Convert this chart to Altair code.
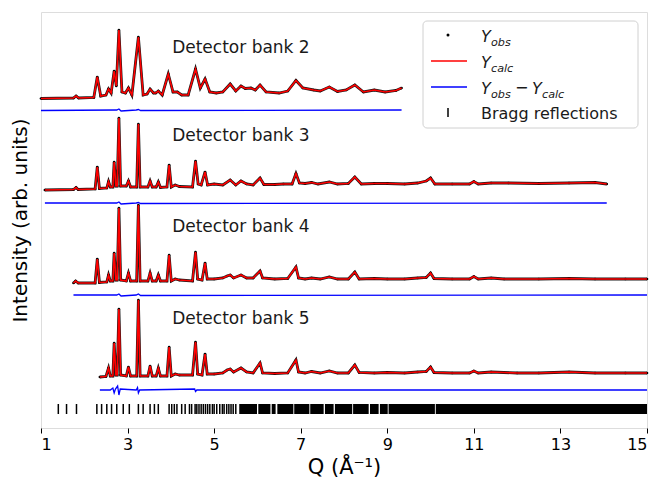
import altair as alt
import pandas as pd

# ---------------- data (arbitrary intensity units) ----------------
# Detector bank 2
b2_q = [1.00, 1.75, 1.81, 1.87, 2.22, 2.30, 2.38, 2.50, 2.56, 2.62, 2.69, 2.74, 2.80, 2.87, 2.95,
        3.02, 3.10, 3.25, 3.36, 3.45, 3.52, 3.60, 3.65, 3.71, 3.80, 3.94, 4.05, 4.15, 4.25, 4.40,
        4.57, 4.68, 4.79, 4.90, 5.05, 5.20, 5.37, 5.50, 5.62, 5.72, 5.85, 5.95, 6.06, 6.20, 6.50,
        6.70, 6.89, 7.05, 7.30, 7.45, 7.66, 7.85, 8.05, 8.25, 8.45, 8.70, 8.95, 9.20, 9.33]
b2_i = [329.5, 330, 332, 330, 330.5, 351, 332, 333, 339, 335, 357, 342, 398, 336, 335,
        340, 333, 391, 333, 334, 339, 335, 335, 337, 333, 354, 336, 336, 333, 333,
        359, 340, 349, 336, 335, 336, 344, 337, 342, 339.5, 340, 338, 343, 336, 335,
        337, 347.5, 340, 338, 337, 341, 336.5, 338, 343, 336, 338, 336, 337.5, 340]
b2_dq = [1.00, 2.75, 2.80, 2.85, 3.20, 3.25, 3.30, 9.33]
b2_di = [317.5, 318, 319, 317, 318, 318.5, 317.5, 318]

# Detector bank 3
b3_q = [1.09, 1.75, 1.81, 1.86, 2.25, 2.30, 2.35, 2.52, 2.56, 2.60, 2.66, 2.69, 2.73, 2.76, 2.80,
        2.84, 2.97, 3.02, 3.07, 3.21, 3.25, 3.29, 3.47, 3.52, 3.57, 3.66, 3.71, 3.76, 3.91, 3.96,
        4.01, 4.10, 4.20, 4.50, 4.57, 4.63, 4.70, 4.79, 4.85, 5.00, 5.20, 5.37, 5.50, 5.62, 5.75,
        5.90, 6.06, 6.15, 6.40, 6.60, 6.80, 6.89, 6.97, 7.10, 7.25, 7.40, 7.66, 7.85, 8.10, 8.25,
        8.40, 8.70, 9.00, 9.40, 9.70, 9.90, 10.00, 10.10, 10.50, 10.90, 11.00, 11.10, 11.40, 11.80,
        12.50, 13.20, 13.80, 14.07]
b3_i = [238, 238.5, 240.5, 238.5, 239, 261, 239.5, 240, 246.5, 241, 241, 266, 242, 242, 310,
        242, 242, 247, 241, 241, 304, 241, 241, 247, 241, 241, 246, 240.5, 241, 263,
        241, 243, 241.5, 241, 267, 244, 243, 256, 243, 244, 243, 248, 243, 247, 244,
        243, 250, 243.5, 243.5, 244, 244, 254.5, 245, 244.5, 245.5, 244, 246, 244, 244.5, 251,
        244, 244.5, 244.5, 244, 245, 247, 250, 244, 244, 244, 246.5, 244, 245, 245,
        244.5, 245, 245.5, 244]
b3_dq = [1.09, 2.75, 2.80, 2.85, 3.20, 3.25, 3.30, 14.07]
b3_di = [225, 225, 226, 224, 225, 225.5, 224.5, 225]

# Detector bank 4
b4_q = [1.75, 1.80, 1.86, 2.25, 2.30, 2.35, 2.52, 2.56, 2.60, 2.66, 2.69, 2.73, 2.76, 2.80, 2.84,
        2.97, 3.02, 3.07, 3.21, 3.25, 3.29, 3.47, 3.52, 3.57, 3.66, 3.71, 3.76, 3.91, 3.96, 4.01,
        4.10, 4.20, 4.50, 4.57, 4.62, 4.72, 4.79, 4.84, 5.00, 5.20, 5.30, 5.37, 5.45, 5.62, 5.75,
        5.90, 6.06, 6.12, 6.40, 6.70, 6.89, 6.95, 7.10, 7.25, 7.45, 7.66, 7.85, 8.10, 8.25, 8.35,
        8.70, 9.00, 9.40, 9.70, 9.90, 10.00, 10.08, 10.50, 10.90, 11.00, 11.10, 11.40, 11.70, 12.50,
        13.20, 13.80, 14.50, 15.00]
b4_i = [145, 147, 145, 145, 169, 145.5, 146, 153, 147, 147, 175, 148, 148, 220, 148,
        147, 155, 147, 147, 223, 147, 147, 155, 147, 147, 153, 147, 147, 173, 147,
        149, 148, 147, 176, 149, 148, 165, 149, 149, 150, 152, 153, 150, 153, 150,
        150, 157, 150, 149, 149.5, 161, 150, 149, 150, 149, 151, 149, 149, 156, 149,
        149.5, 149, 149, 150, 150.5, 155, 149.5, 149, 149, 151.5, 149, 150, 149, 149,
        149.5, 149, 149, 149]
b4_dq = [1.75, 2.75, 2.80, 2.85, 3.20, 3.25, 3.30, 15.00]
b4_di = [133, 133, 134, 132, 133, 134, 132.5, 133]

# Detector bank 5
b5_q = [2.36, 2.50, 2.56, 2.60, 2.66, 2.69, 2.73, 2.76, 2.80, 2.84, 2.97, 3.02, 3.07, 3.21, 3.25,
        3.29, 3.47, 3.52, 3.57, 3.66, 3.71, 3.76, 3.91, 3.96, 4.01, 4.10, 4.20, 4.50, 4.57, 4.62,
        4.72, 4.79, 4.84, 5.00, 5.20, 5.30, 5.37, 5.45, 5.62, 5.75, 5.90, 6.06, 6.12, 6.40, 6.70,
        6.89, 6.95, 7.10, 7.25, 7.45, 7.66, 7.85, 8.10, 8.25, 8.35, 8.70, 9.00, 9.40, 9.70, 9.90,
        10.00, 10.08, 10.50, 10.90, 11.00, 11.10, 11.40, 12.00, 12.50, 13.20, 13.80, 14.50, 15.00]
b5_i = [51, 51.5, 60, 52, 52, 85, 53, 53, 119, 53, 52, 61, 52, 52, 128,
        52, 52, 62, 52, 52, 60, 52, 52, 81, 52, 54, 53, 53, 86, 54,
        53, 74, 54, 54, 55, 58, 59, 56, 60, 56, 55, 65, 55, 54.5, 55,
        68, 56, 55, 56.5, 55, 57, 55, 55, 63, 55.5, 55, 55.5, 55, 56, 56.5,
        61, 55.5, 55, 55, 57, 55, 56, 55, 55, 56, 55, 55, 55]
b5_dq = [2.36, 2.60, 2.66, 2.69, 2.72, 2.77, 2.80, 2.83, 3.20, 3.23, 3.25, 3.28, 4.55, 4.57, 4.60, 15.00]
b5_di = [38, 38, 40, 35, 39, 42, 33, 39, 38, 40.5, 35, 38, 39, 36.5, 38, 38]

# Bragg reflection positions (individual ticks) and densely packed bands
bragg_q = [1.40, 1.59, 1.82, 2.29, 2.40, 2.52, 2.63, 2.75, 2.90, 3.04, 3.25, 3.36, 3.52, 3.62,
           3.71, 3.96, 4.02, 4.08, 4.14, 4.25, 4.33, 4.43, 4.48, 4.56, 4.60, 4.65, 4.70, 4.75,
           4.80, 4.85, 4.90, 4.96, 5.00, 5.06, 5.13, 5.19, 5.23, 5.29, 5.34, 5.39, 5.44, 5.50]
band_start = [5.58, 6.02, 6.33, 6.46, 6.85, 7.22, 7.56, 7.79, 8.21, 8.60, 8.83, 9.03, 10.12]
band_end = [5.99, 6.30, 6.42, 6.83, 7.20, 7.53, 7.76, 8.19, 8.57, 8.80, 9.01, 10.10, 15.00]
bragg_lo, bragg_hi = 14, 24

# Bank labels
label_text = ["Detector bank 2", "Detector bank 3", "Detector bank 4", "Detector bank 5"]
label_q = [4.03, 4.03, 4.03, 4.03]
label_i = [380, 292, 201, 109]

# ---------------- tables ----------------
banks = [(b2_q, b2_i, "2"), (b3_q, b3_i, "3"), (b4_q, b4_i, "4"), (b5_q, b5_i, "5")]
diffs = [(b2_dq, b2_di, "2"), (b3_dq, b3_di, "3"), (b4_dq, b4_di, "4"), (b5_dq, b5_di, "5")]
prof = pd.concat([pd.DataFrame({"Q": q, "I": i, "bank": b}) for q, i, b in banks])
diff = pd.concat([pd.DataFrame({"Q": q, "I": i, "bank": b}) for q, i, b in diffs])
ticks = pd.DataFrame({"Q": bragg_q, "lo": bragg_lo, "hi": bragg_hi})
bands = pd.DataFrame({"Q": band_start, "Q2": band_end, "lo": bragg_lo, "hi": bragg_hi})
labels = pd.DataFrame({"Q": label_q, "I": label_i, "text": label_text})

FONT = "DejaVu Sans"
xs = alt.Scale(domain=[1, 15], nice=False, zero=False)
ys = alt.Scale(domain=[0, 416], nice=False, zero=False)

X = alt.X("Q:Q", scale=xs,
          axis=alt.Axis(values=[1, 3, 5, 7, 9, 11, 13, 15], format="d", grid=False, domain=False,
                        tickSize=5, tickColor="black", labelFontSize=16, labelFont=FONT,
                        labelColor="black", labelPadding=3, title="Q (Å⁻¹)", titleFont=FONT,
                        titleFontSize=21, titleFontWeight="normal", titleColor="black",
                        titleX=303, titleY=39, titleAlign="center", titleBaseline="middle"))
Y = alt.Y("I:Q", scale=ys,
          axis=alt.Axis(labels=False, ticks=False, domain=False, grid=False,
                        title="Intensity (arb. units)", titleFont=FONT, titleFontSize=20,
                        titleFontWeight="normal", titleColor="black", titleX=-21, titleY=208,
                        titleAngle=270, titleAlign="center", titleBaseline="middle"))

obs_line = alt.Chart(prof).mark_line(color="#1a1a1a", strokeWidth=2.8).encode(x=X, y=Y, detail="bank:N")
obs_pts = alt.Chart(prof).mark_circle(color="black", size=7, opacity=1).encode(x="Q:Q", y="I:Q")
calc = alt.Chart(prof).mark_line(color="#ff0000", strokeWidth=1.6).encode(x="Q:Q", y="I:Q", detail="bank:N")
dline = alt.Chart(diff).mark_line(color="#0000ff", strokeWidth=1.3).encode(x="Q:Q", y="I:Q", detail="bank:N")
bragg = alt.Chart(ticks).mark_rule(color="black", strokeWidth=1.5).encode(x="Q:Q", y="lo:Q", y2="hi:Q")
bragg_band = alt.Chart(bands).mark_rect(color="black").encode(x="Q:Q", x2="Q2:Q", y="lo:Q", y2="hi:Q")
txt = alt.Chart(labels).mark_text(font=FONT, fontSize=17, align="left", baseline="middle",
                                  color="#1a1a1a").encode(x="Q:Q", y="I:Q", text="text:N")

# ---------------- legend (drawn by hand, to keep the subscripts) ----------------
leg_box = alt.Chart(pd.DataFrame({"a": [0]})).mark_rect(
    fill="white", stroke="#cccccc", strokeWidth=1, cornerRadius=4, opacity=0.9
).encode(x=alt.value(382), x2=alt.value(597), y=alt.value(9), y2=alt.value(116))
leg_dot = alt.Chart(pd.DataFrame({"a": [0]})).mark_circle(color="black", size=9, opacity=1).encode(
    x=alt.value(407), y=alt.value(23))
leg_red = alt.Chart(pd.DataFrame({"a": [0]})).mark_rule(color="#ff0000", strokeWidth=1.5).encode(
    x=alt.value(390), x2=alt.value(426), y=alt.value(49))
leg_blue = alt.Chart(pd.DataFrame({"a": [0]})).mark_rule(color="#0000ff", strokeWidth=1.5).encode(
    x=alt.value(390), x2=alt.value(426), y=alt.value(75))
leg_tick = alt.Chart(pd.DataFrame({"a": [0]})).mark_rule(color="black", strokeWidth=1.5).encode(
    x=alt.value(407), y=alt.value(96), y2=alt.value(105))

leg_italic = pd.DataFrame({
    "px": [440, 450, 440, 450, 440, 450, 491, 501],
    "py": [30, 33.5, 56, 59.5, 82, 85.5, 82, 85.5],
    "t": ["Y", "obs", "Y", "calc", "Y", "obs", "Y", "calc"],
    "s": [16, 11.2, 16, 11.2, 16, 11.2, 16, 11.2],
})
leg_plain = pd.DataFrame({"px": [474, 440], "py": [81, 107], "t": ["−", "Bragg reflections"], "s": [16, 16]})
leg_it = alt.Chart(leg_italic).mark_text(font=FONT, fontStyle="italic", align="left",
                                         baseline="alphabetic", color="#1a1a1a").encode(
    x=alt.X("px:Q", scale=None), y=alt.Y("py:Q", scale=None), text="t:N", size=alt.Size("s:Q", scale=None))
leg_pl = alt.Chart(leg_plain).mark_text(font=FONT, align="left", baseline="alphabetic",
                                        color="#1a1a1a").encode(
    x=alt.X("px:Q", scale=None), y=alt.Y("py:Q", scale=None), text="t:N", size=alt.Size("s:Q", scale=None))

chart = alt.layer(
    obs_line, obs_pts, calc, dline, bragg, bragg_band, txt,
    leg_box, leg_dot, leg_red, leg_blue, leg_tick, leg_it, leg_pl
).properties(
    width=606, height=416,
    padding={"left": 33, "top": 4, "right": 4, "bottom": 49},
    autosize=alt.AutoSizeParams(type="none"),
).configure_view(stroke="black", strokeWidth=1.2).configure(background="white")

chart.save("out.html", embed_options={"renderer": "svg", "actions": False})
